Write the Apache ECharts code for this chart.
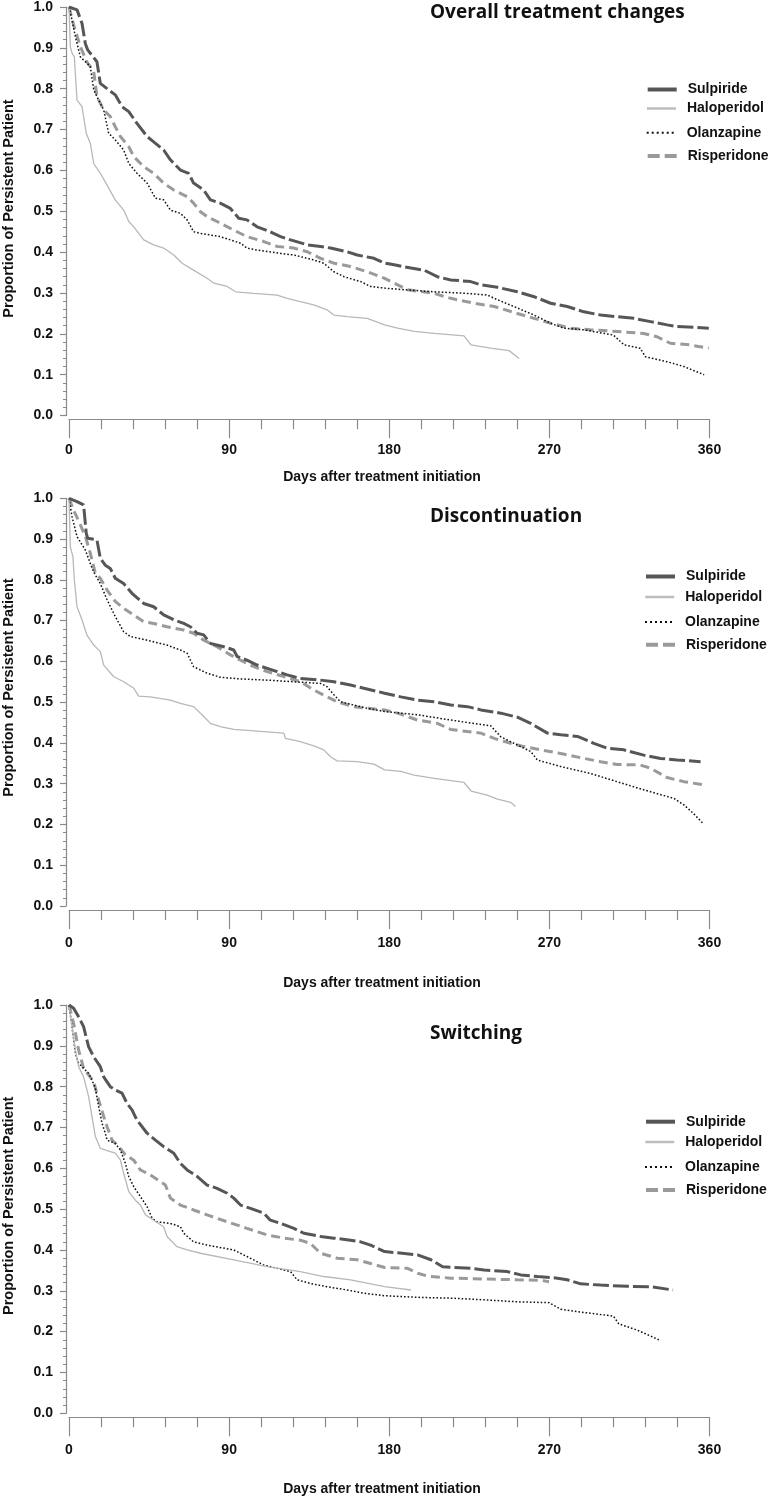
<!DOCTYPE html>
<html>
<head>
<meta charset="utf-8">
<script src="https://cdn.jsdelivr.net/npm/echarts@6/dist/echarts.min.js"></script>
<style>
html,body{margin:0;padding:0;background:#fff;}
#chart{width:768px;height:1499px;}
</style>
</head>
<body>
<div id="chart"></div>
<script>
// ---------- DATA ----------
const drugs = ['Sulpiride', 'Haloperidol', 'Olanzapine', 'Risperidone'];
const panelTitles = ['Overall treatment changes', 'Discontinuation', 'Switching'];
const xTickLabels = [0, 90, 180, 270, 360];
const yTickLabels = ['0.0','0.1','0.2','0.3','0.4','0.5','0.6','0.7','0.8','0.9','1.0'];
const xTitle = 'Days after treatment initiation';
const yTitle = 'Proportion of Persistent Patient';

// Overall treatment changes: [day, proportion]
const otcSulpiride = [[0,1.0],[4.5,0.993],[7.3,0.96],[9.2,0.91],[10.5,0.895],[15.7,0.866],[17.6,0.813],[22.3,0.797],[26,0.785],[29.8,0.756],[33.6,0.744],[38.2,0.715],[43.9,0.683],[47.6,0.67],[53.2,0.65],[57,0.626],[62.6,0.601],[67.3,0.593],[70,0.569],[75.7,0.552],[79.5,0.528],[85,0.52],[90.7,0.507],[95.4,0.483],[100,0.479],[105.7,0.462],[113,0.45],[118.9,0.438],[124.5,0.43],[133.9,0.418],[141.4,0.414],[147,0.41],[156.4,0.401],[162,0.393],[171.4,0.385],[177.4,0.373],[182.8,0.369],[192.2,0.361],[199.6,0.356],[207,0.34],[214.6,0.332],[225.8,0.328],[231.5,0.32],[240.8,0.314],[252,0.303],[261.4,0.291],[270.7,0.275],[280,0.267],[289.4,0.254],[298.8,0.246],[308,0.242],[317.5,0.238],[326.8,0.23],[336.2,0.222],[341.8,0.218],[359.6,0.214]];
const otcHaloperidol = [[0,1.0],[0.75,0.903],[1.7,0.887],[3,0.878],[4.5,0.772],[7.3,0.756],[9.7,0.691],[12,0.666],[13.9,0.617],[17.6,0.593],[21.4,0.564],[26,0.528],[30.7,0.503],[33.6,0.475],[36.4,0.462],[42,0.43],[47.6,0.418],[53.2,0.41],[58.9,0.393],[63.6,0.373],[70,0.356],[77.6,0.336],[81.4,0.324],[88.9,0.316],[93.6,0.303],[103.9,0.299],[117,0.295],[122.6,0.287],[130,0.279],[137.6,0.271],[145,0.259],[148.9,0.246],[156.4,0.242],[167.6,0.238],[177.4,0.222],[184.7,0.214],[194,0.206],[205.3,0.201],[222,0.195],[225.9,0.173],[237,0.165],[247.3,0.159],[253,0.14]];
const otcOlanzapine = [[0,1.0],[1.7,0.968],[3.6,0.927],[6.4,0.878],[9.2,0.866],[12,0.854],[13.9,0.797],[16.7,0.772],[19.5,0.748],[22.3,0.691],[26,0.675],[30.7,0.65],[33.6,0.617],[38.2,0.593],[43.9,0.569],[48.6,0.532],[53.2,0.528],[57,0.503],[62.6,0.495],[66.4,0.479],[70,0.45],[73.9,0.446],[85,0.438],[90.7,0.43],[96.4,0.422],[100,0.41],[105.7,0.405],[118.9,0.397],[126.4,0.393],[137.6,0.381],[143.2,0.373],[148.9,0.352],[154.5,0.34],[163.9,0.328],[169.5,0.316],[177.4,0.312],[188.4,0.308],[205.3,0.303],[224,0.299],[235.2,0.295],[239,0.287],[250,0.267],[261.4,0.246],[270.7,0.226],[278,0.214],[289.4,0.21],[306,0.197],[312,0.173],[321,0.165],[324,0.144],[336,0.132],[345.6,0.12],[357,0.1]];
const otcRisperidone = [[0,1.0],[2.6,0.956],[6.4,0.903],[10,0.866],[13.9,0.842],[15.7,0.781],[19.5,0.748],[23.2,0.732],[26,0.707],[28.9,0.683],[33.6,0.658],[36.4,0.634],[42,0.609],[47.6,0.593],[53.2,0.569],[58.9,0.552],[66.4,0.536],[70,0.52],[73.9,0.499],[77.6,0.487],[83.2,0.475],[92.6,0.454],[100,0.438],[109.5,0.426],[117,0.414],[126.4,0.41],[133.9,0.401],[141.4,0.385],[148.9,0.373],[158.2,0.365],[167.6,0.352],[177.4,0.336],[182.8,0.324],[190.3,0.308],[205.3,0.299],[214.6,0.287],[227.7,0.275],[239,0.267],[252,0.25],[261.4,0.238],[270.7,0.226],[282,0.214],[293,0.21],[308,0.206],[323,0.201],[330.5,0.193],[338,0.177],[349,0.173],[359.6,0.165]];

// Discontinuation
const disSulpiride = [[0,1.0],[4.5,0.992],[8.2,0.984],[9.2,0.98],[9.7,0.914],[10.5,0.902],[15.7,0.898],[17.6,0.853],[20.4,0.836],[23.2,0.828],[26,0.804],[30.7,0.791],[35.4,0.767],[42,0.742],[47.6,0.734],[53.2,0.714],[58.9,0.702],[64.5,0.693],[68.2,0.685],[72,0.669],[75.7,0.665],[79.5,0.644],[87,0.636],[92.6,0.628],[94.5,0.612],[100,0.603],[105.7,0.591],[111.4,0.583],[117,0.575],[122.6,0.567],[130,0.558],[141.4,0.554],[148.9,0.55],[158.2,0.542],[165.7,0.534],[177.4,0.522],[186.5,0.513],[195.9,0.505],[205.3,0.501],[214.6,0.493],[224,0.489],[231.5,0.481],[242.7,0.473],[252,0.463],[259.5,0.448],[268.9,0.424],[276.4,0.42],[285.8,0.416],[295,0.399],[302.6,0.387],[311.9,0.383],[323,0.37],[332.5,0.362],[341.8,0.358],[355,0.354]];
const disHaloperidol = [[0,1.0],[0.75,0.881],[2.2,0.857],[3,0.8],[4.5,0.734],[7.3,0.702],[10,0.665],[13.9,0.64],[17.6,0.624],[18.6,0.62],[19.5,0.591],[25,0.563],[30.7,0.55],[36.4,0.534],[39.2,0.515],[45.7,0.513],[57,0.505],[62.6,0.497],[70,0.489],[74.8,0.469],[79.5,0.448],[85,0.44],[92.6,0.433],[102,0.43],[120.7,0.424],[121.7,0.411],[130,0.403],[137.6,0.393],[143.2,0.383],[147,0.366],[150.7,0.356],[162,0.354],[171.4,0.348],[177.4,0.334],[186.5,0.33],[194,0.321],[205.3,0.313],[222,0.303],[226,0.282],[235,0.272],[240.8,0.262],[248.3,0.254],[251,0.244]];
const disOlanzapine = [[0,1.0],[1.7,0.955],[4.5,0.906],[9.2,0.873],[13,0.828],[14.8,0.812],[17.6,0.791],[21.4,0.751],[26,0.71],[30.7,0.673],[34.5,0.661],[43.9,0.652],[55,0.64],[62.6,0.628],[66.4,0.62],[70,0.587],[77.6,0.571],[85,0.561],[96.4,0.557],[111.4,0.554],[126.4,0.55],[141.4,0.546],[145,0.538],[148.9,0.518],[152.6,0.501],[160,0.493],[167.6,0.485],[177.4,0.477],[195.9,0.469],[214.6,0.456],[237,0.442],[242.7,0.415],[252,0.395],[259.5,0.379],[263.3,0.358],[276.4,0.342],[293.2,0.325],[308,0.305],[323,0.285],[340,0.264],[345.6,0.248],[351,0.227],[356,0.204]];
const disRisperidone = [[0,1.0],[2.6,0.971],[6.4,0.935],[9.2,0.906],[12,0.865],[14.8,0.816],[17.6,0.804],[21.4,0.775],[26,0.747],[30.7,0.73],[36.4,0.714],[42,0.697],[47.6,0.693],[55,0.685],[64.5,0.677],[70,0.669],[75.7,0.652],[83.2,0.636],[90.7,0.616],[96.4,0.603],[103.9,0.587],[111.4,0.575],[120.7,0.563],[130,0.55],[137.6,0.53],[145,0.513],[150.7,0.501],[160,0.489],[167.6,0.485],[177.4,0.481],[184.7,0.473],[195.9,0.456],[207,0.448],[214.6,0.433],[231.5,0.424],[239,0.411],[248.3,0.399],[255.8,0.391],[265,0.383],[276.4,0.374],[289.4,0.362],[298.8,0.354],[308,0.347],[321,0.346],[326.8,0.338],[336.2,0.315],[345.6,0.305],[357,0.297]];

// Switching
const swiSulpiride = [[0,1.0],[2.6,0.992],[5.4,0.971],[8.2,0.947],[11,0.898],[13.9,0.873],[17.6,0.849],[19.5,0.824],[23.2,0.8],[26,0.792],[29.8,0.784],[32.6,0.759],[35.4,0.743],[38.2,0.718],[43.9,0.686],[48.6,0.669],[53.2,0.653],[58.9,0.637],[62.6,0.612],[66.4,0.596],[72,0.58],[77.6,0.559],[83.2,0.551],[88.9,0.539],[92.6,0.527],[96.4,0.51],[102,0.502],[109.5,0.49],[113.2,0.473],[118.9,0.465],[126.4,0.453],[132,0.441],[141.4,0.433],[148.9,0.429],[158.2,0.424],[163.9,0.42],[169.5,0.412],[177.4,0.396],[184.7,0.393],[195.9,0.388],[203.4,0.376],[210,0.359],[225.8,0.355],[233.3,0.351],[246.4,0.347],[253.9,0.339],[263.3,0.335],[274.5,0.331],[280,0.327],[287.6,0.317],[298.8,0.314],[313.8,0.311],[326.8,0.31],[339.5,0.302]];
const swiHaloperidol = [[0,1.0],[1.7,0.947],[3.6,0.89],[5.4,0.849],[8.2,0.824],[11,0.776],[12.9,0.727],[14.8,0.678],[17.6,0.649],[23.2,0.641],[26,0.637],[28.9,0.62],[30.7,0.588],[33.6,0.543],[37.3,0.522],[40.1,0.51],[43,0.486],[47.6,0.473],[53.2,0.457],[55.1,0.433],[60.7,0.408],[66.4,0.4],[73.9,0.392],[92.6,0.376],[111.4,0.359],[130,0.347],[143.2,0.335],[158.2,0.327],[177.4,0.31],[192.2,0.302]];
const swiOlanzapine = [[0,1.0],[1.7,0.947],[3.6,0.882],[5.4,0.857],[8.2,0.845],[11,0.833],[12.9,0.816],[14.8,0.796],[16.7,0.751],[18.6,0.71],[20.4,0.686],[21.4,0.669],[26,0.661],[28.9,0.645],[31.7,0.612],[33.6,0.58],[36.4,0.555],[40.1,0.531],[43.9,0.506],[46.7,0.478],[49.5,0.469],[57,0.465],[62.6,0.457],[64.5,0.441],[70,0.42],[77.6,0.412],[92.6,0.4],[100,0.384],[109.5,0.363],[117,0.355],[124.5,0.347],[128.2,0.327],[135.7,0.318],[145,0.31],[156.4,0.302],[165.7,0.294],[177.4,0.288],[195.9,0.284],[214.6,0.282],[233.3,0.278],[252,0.273],[269.8,0.271],[276.3,0.255],[289.4,0.247],[306,0.238],[309,0.219],[319.3,0.204],[331.5,0.18]];
const swiRisperidone = [[0,1.0],[2.6,0.955],[5.4,0.89],[8.2,0.845],[11,0.829],[13.9,0.812],[16.7,0.767],[19.5,0.727],[21.4,0.702],[24.2,0.669],[28,0.653],[31.7,0.633],[36.4,0.62],[40.1,0.596],[45.7,0.584],[51.4,0.567],[54.2,0.559],[57,0.527],[62.6,0.51],[70,0.498],[77.6,0.486],[88.9,0.469],[100,0.453],[111.4,0.437],[120.7,0.429],[130,0.424],[135.7,0.416],[141.4,0.392],[150.7,0.38],[162,0.376],[169.5,0.367],[177.4,0.357],[190.3,0.355],[195.9,0.343],[201.5,0.336],[214.6,0.331],[233.3,0.329],[252,0.327],[265,0.326],[269.8,0.322]];

const panelData = [
  [otcSulpiride, otcHaloperidol, otcOlanzapine, otcRisperidone],
  [disSulpiride, disHaloperidol, disOlanzapine, disRisperidone],
  [swiSulpiride, swiHaloperidol, swiOlanzapine, swiRisperidone]
];

// ---------- STYLE / LAYOUT ----------
const LABEL_FONT = "'Liberation Sans', Arial, sans-serif";
const TITLE_FONT = "'Open Sans', sans-serif";
const AXIS_COLOR = '#8a8a8a';
const seriesStyles = [
  {color:'#565656', width:3, type:[16,4]},
  {color:'#b8b8b8', width:1.3, type:'solid'},
  {color:'#111111', width:1.5, type:[1.6,2]},
  {color:'#9a9a9a', width:3, type:[9,5]}
];
const legendStyles = [
  {color:'#565656', width:4, type:'solid'},
  {color:'#bdbdbd', width:2.5, type:'solid'},
  {color:'#111111', width:2, type:[2,3]},
  {color:'#9a9a9a', width:4, type:[12,5]}
];
const panels = [
  {top:7, height:408.6, xOff:3.7, labelMargin:24, titleTop:3, xTitleY:477, yTitleY:208.5, legendRows:[89.5,108.5,132.7,156], legendLeft:645.7},
  {top:498.3, height:407.7, xOff:4, labelMargin:26, titleTop:507, xTitleY:983, yTitleY:687.5, legendRows:[576.5,597,622,644.7], legendLeft:644},
  {top:1005, height:408.3, xOff:4, labelMargin:26, titleTop:1024, xTitleY:1489, yTitleY:1205.8, legendRows:[1121.7,1142,1167,1190], legendLeft:644}
];
const GRID_LEFT = 69, GRID_WIDTH = 640.5;

const grid = [], xAxis = [], yAxis = [], series = [], legend = [], title = [], graphic = [];
panels.forEach((p, i) => {
  grid.push({left:GRID_LEFT, width:GRID_WIDTH, top:p.top, height:p.height, containLabel:false});
  xAxis.push({
    type:'value', gridIndex:i, min:xTickLabels[0], max:xTickLabels[xTickLabels.length-1], interval:90,
    offset:p.xOff,
    axisLine:{show:true, onZero:false, lineStyle:{color:AXIS_COLOR, width:1.2}},
    axisTick:{show:true, length:19, lineStyle:{color:AXIS_COLOR, width:1.2}},
    minorTick:{show:true, splitNumber:5, length:10, lineStyle:{color:AXIS_COLOR, width:1.2}},
    splitLine:{show:false},
    axisLabel:{margin:p.labelMargin, color:'#111', fontFamily:LABEL_FONT, fontWeight:'bold', fontSize:14,
      formatter:v => xTickLabels.includes(v) ? String(v) : ''}
  });
  yAxis.push({
    type:'value', gridIndex:i, min:0, max:1, interval:0.1, offset:3,
    axisLine:{show:true, onZero:false, lineStyle:{color:AXIS_COLOR, width:1.2}},
    axisTick:{show:true, length:6, lineStyle:{color:AXIS_COLOR, width:1.2}},
    minorTick:{show:true, splitNumber:5, length:3, lineStyle:{color:AXIS_COLOR, width:1}},
    splitLine:{show:false},
    axisLabel:{margin:13, color:'#111', fontFamily:LABEL_FONT, fontWeight:'bold', fontSize:14,
      formatter:v => yTickLabels[Math.round(v*10)]}
  });
  drugs.forEach((d, j) => {
    series.push({
      type:'line', name:d, xAxisIndex:i, yAxisIndex:i, data:panelData[i][j],
      symbol:'none', showSymbol:false, silent:true, animation:false,
      lineStyle:Object.assign({}, seriesStyles[j]), itemStyle:{color:seriesStyles[j].color},
      z: 10 - j
    });
    legend.push({
      left:p.legendLeft, top:p.legendRows[j] - 7, itemWidth:29, itemHeight:14, padding:0,
      selectedMode:false, orient:'horizontal',
      textStyle:{fontFamily:LABEL_FONT, fontWeight:'bold', fontSize:14, color:'#111', padding:[0,0,0,6]},
      data:[{name:d, lineStyle:Object.assign({}, legendStyles[j]),
        itemStyle:{color:'rgba(0,0,0,0)', borderColor:'rgba(0,0,0,0)', borderWidth:0, opacity:0}}]
    });
  });
  title.push({text:panelTitles[i], left:430, top:p.titleTop, padding:0,
    textStyle:{fontFamily:TITLE_FONT, fontWeight:'bold', fontSize:19, color:'#111'}});
  graphic.push({type:'text', x:382, y:p.xTitleY,
    style:{text:xTitle, fill:'#111', font:"bold 14px 'Liberation Sans', Arial, sans-serif", textAlign:'center', textVerticalAlign:'middle'}});
  graphic.push({type:'text', x:9, y:p.yTitleY, rotation:Math.PI/2,
    style:{text:yTitle, fill:'#111', font:"bold 14.5px 'Liberation Sans', Arial, sans-serif", textAlign:'center', textVerticalAlign:'middle'}});
});

const chart = echarts.init(document.getElementById('chart'), null, {renderer:'canvas'});
chart.setOption({
  animation:false, backgroundColor:'#fff',
  title, grid, xAxis, yAxis, series, legend, graphic
});
</script>
</body>
</html>
